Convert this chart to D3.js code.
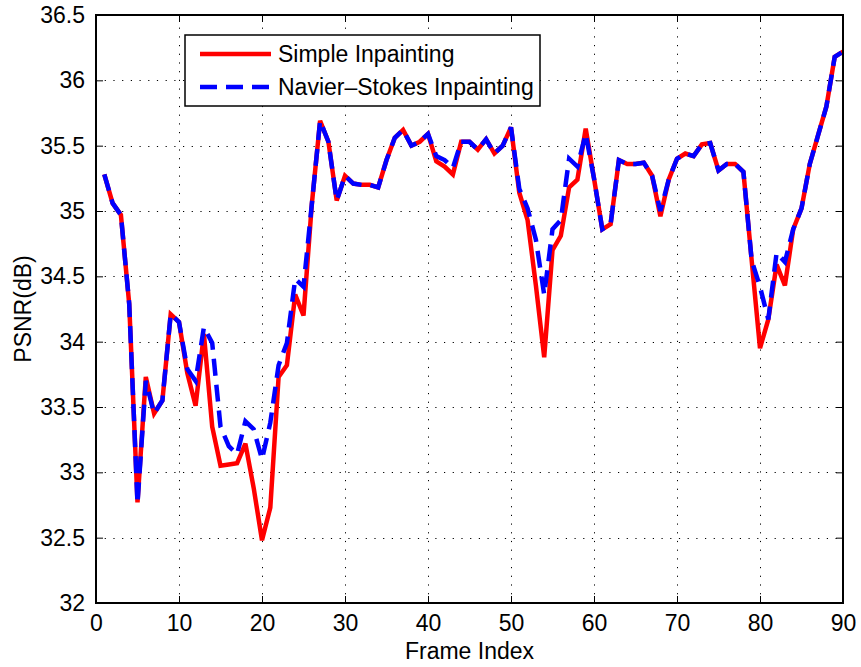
<!DOCTYPE html>
<html>
<head>
<meta charset="utf-8">
<script src="https://cdn.jsdelivr.net/npm/d3@7/dist/d3.min.js"></script>
<style>
  html, body { margin: 0; padding: 0; background: #fff; }
  svg text { font-family: "Liberation Sans", Arial, Helvetica, sans-serif; fill: #000; }
</style>
</head>
<body>
<svg id="chart" width="861" height="667"></svg>
<script>
// Frame indices 1..90
const frames = d3.range(1, 91);

// PSNR per frame, simple inpainting
const simplePSNR = [
  35.28, 35.06, 34.97, 34.29, 32.77, 33.73, 33.45, 33.55, 34.21, 34.15,
  33.76, 33.51, 34.06, 33.35, 33.05, 33.06, 33.07, 33.22, 32.88, 32.48,
  32.73, 33.73, 33.82, 34.36, 34.20, 35.05, 35.69, 35.53, 35.08, 35.27,
  35.21, 35.20, 35.20, 35.18, 35.39, 35.56, 35.62, 35.50, 35.53, 35.59,
  35.38, 35.34, 35.28, 35.53, 35.53, 35.47, 35.55, 35.44, 35.50, 35.64,
  35.14, 34.93, 34.43, 33.88, 34.70, 34.81, 35.18, 35.24, 35.63, 35.25,
  34.86, 34.90, 35.39, 35.36, 35.36, 35.37, 35.27, 34.96, 35.24, 35.40,
  35.44, 35.42, 35.51, 35.52, 35.31, 35.36, 35.36, 35.30, 34.62, 33.95,
  34.17, 34.59, 34.43, 34.86, 35.02, 35.36, 35.58, 35.80, 36.18, 36.22
];

// PSNR per frame, Navier-Stokes inpainting
const nsPSNR = [
  35.28, 35.06, 34.97, 34.29, 32.76, 33.70, 33.45, 33.55, 34.21, 34.15,
  33.79, 33.70, 34.11, 33.99, 33.35, 33.20, 33.14, 33.39, 33.33, 33.10,
  33.38, 33.82, 33.99, 34.48, 34.42, 35.05, 35.69, 35.53, 35.08, 35.27,
  35.21, 35.20, 35.20, 35.18, 35.39, 35.56, 35.62, 35.50, 35.53, 35.59,
  35.42, 35.39, 35.33, 35.53, 35.53, 35.47, 35.55, 35.44, 35.50, 35.64,
  35.17, 35.02, 34.78, 34.36, 34.86, 34.93, 35.40, 35.34, 35.59, 35.25,
  34.86, 34.90, 35.39, 35.36, 35.36, 35.37, 35.27, 35.00, 35.24, 35.40,
  35.44, 35.42, 35.51, 35.52, 35.31, 35.36, 35.36, 35.30, 34.62, 34.42,
  34.17, 34.68, 34.61, 34.86, 35.02, 35.36, 35.58, 35.80, 36.18, 36.22
];

const xTicks = [0, 10, 20, 30, 40, 50, 60, 70, 80, 90];
const yTicks = [32, 32.5, 33, 33.5, 34, 34.5, 35, 35.5, 36, 36.5];

const seriesNames = ["Simple Inpainting", "Navier\u2013Stokes Inpainting"];
const seriesColors = ["#ff0000", "#0000ff"];

const svg = d3.select("#chart");
const margin = { left: 96, right: 18, top: 15, bottom: 64 };
const W = 861, H = 667;
const x0 = margin.left, x1 = W - margin.right;
const y0 = H - margin.bottom, y1 = margin.top;

const x = d3.scaleLinear().domain([0, 90]).range([x0, x1]);
const y = d3.scaleLinear().domain([32, 36.5]).range([y0, y1]);

svg.append("rect").attr("width", W).attr("height", H).attr("fill", "#fff");

// dotted grid
const grid = svg.append("g").attr("stroke", "#000").attr("stroke-width", 1)
  .attr("stroke-dasharray", "1.2 7.5");
grid.selectAll("line.gx").data(xTicks.slice(1, -1)).join("line")
  .attr("x1", d => Math.round(x(d)) + 0.5).attr("x2", d => Math.round(x(d)) + 0.5)
  .attr("y1", y0).attr("y2", y1);
grid.selectAll("line.gy").data(yTicks.slice(1, -1)).join("line")
  .attr("y1", d => Math.round(y(d)) + 0.5).attr("y2", d => Math.round(y(d)) + 0.5)
  .attr("x1", x0).attr("x2", x1);

// axes with inward ticks, labels only on bottom / left
const tickLen = 7;
const fontSize = 23;
const xAxis = d3.axisBottom(x).tickValues(xTicks).tickSizeInner(-tickLen).tickSizeOuter(0)
  .tickPadding(12).tickFormat(d3.format("d"));
const yAxis = d3.axisLeft(y).tickValues(yTicks).tickSizeInner(-tickLen).tickSizeOuter(0)
  .tickPadding(11).tickFormat(d => String(d));
const xAxisTop = d3.axisTop(x).tickValues(xTicks).tickSizeInner(-tickLen).tickSizeOuter(0).tickFormat("");
const yAxisRight = d3.axisRight(y).tickValues(yTicks).tickSizeInner(-tickLen).tickSizeOuter(0).tickFormat("");

function styleAxis(g) {
  g.select(".domain").remove();
  g.selectAll("line").attr("stroke", "#000").attr("stroke-width", 1);
  g.selectAll("text").attr("font-size", fontSize)
    .attr("font-family", "Liberation Sans, Arial, sans-serif").attr("fill", "#000");
}
svg.append("g").attr("transform", `translate(0,${y0})`).call(xAxis).call(styleAxis);
svg.append("g").attr("transform", `translate(${x0},0)`).call(yAxis).call(styleAxis);
svg.append("g").attr("transform", `translate(0,${y1})`).call(xAxisTop).call(styleAxis);
svg.append("g").attr("transform", `translate(${x1},0)`).call(yAxisRight).call(styleAxis);

// data lines
const line = d3.line().x((d, i) => x(frames[i])).y(d => y(d));
svg.append("path").datum(simplePSNR).attr("d", line)
  .attr("fill", "none").attr("stroke", seriesColors[0]).attr("stroke-width", 4.5)
  .attr("stroke-linejoin", "miter").attr("stroke-miterlimit", 3);
svg.append("path").datum(nsPSNR).attr("d", line)
  .attr("fill", "none").attr("stroke", seriesColors[1]).attr("stroke-width", 4.5)
  .attr("stroke-dasharray", "17 9").attr("stroke-miterlimit", 3);

// frame
svg.append("rect").attr("x", x0).attr("y", y1).attr("width", x1 - x0).attr("height", y0 - y1)
  .attr("fill", "none").attr("stroke", "#000").attr("stroke-width", 2);

// axis titles
svg.append("text").attr("x", (x0 + x1) / 2).attr("y", 659).attr("text-anchor", "middle")
  .attr("font-size", fontSize).text("Frame Index");
svg.append("text").attr("transform", `translate(31,${(y0 + y1) / 2}) rotate(-90)`)
  .attr("text-anchor", "middle").attr("font-size", fontSize).text("PSNR(dB)");

// legend
const lg = svg.append("g");
lg.append("rect").attr("x", 185).attr("y", 35).attr("width", 355).attr("height", 71)
  .attr("fill", "#fff").attr("stroke", "#000").attr("stroke-width", 1.5);
seriesNames.forEach((name, i) => {
  const ly = 54 + i * 33;
  lg.append("line").attr("x1", 200).attr("x2", 271).attr("y1", ly).attr("y2", ly)
    .attr("stroke", seriesColors[i]).attr("stroke-width", 4.5)
    .attr("stroke-dasharray", i === 1 ? "17 9" : null);
  lg.append("text").attr("x", 278).attr("y", ly + 8).attr("font-size", fontSize).text(name);
});
</script>
</body>
</html>
